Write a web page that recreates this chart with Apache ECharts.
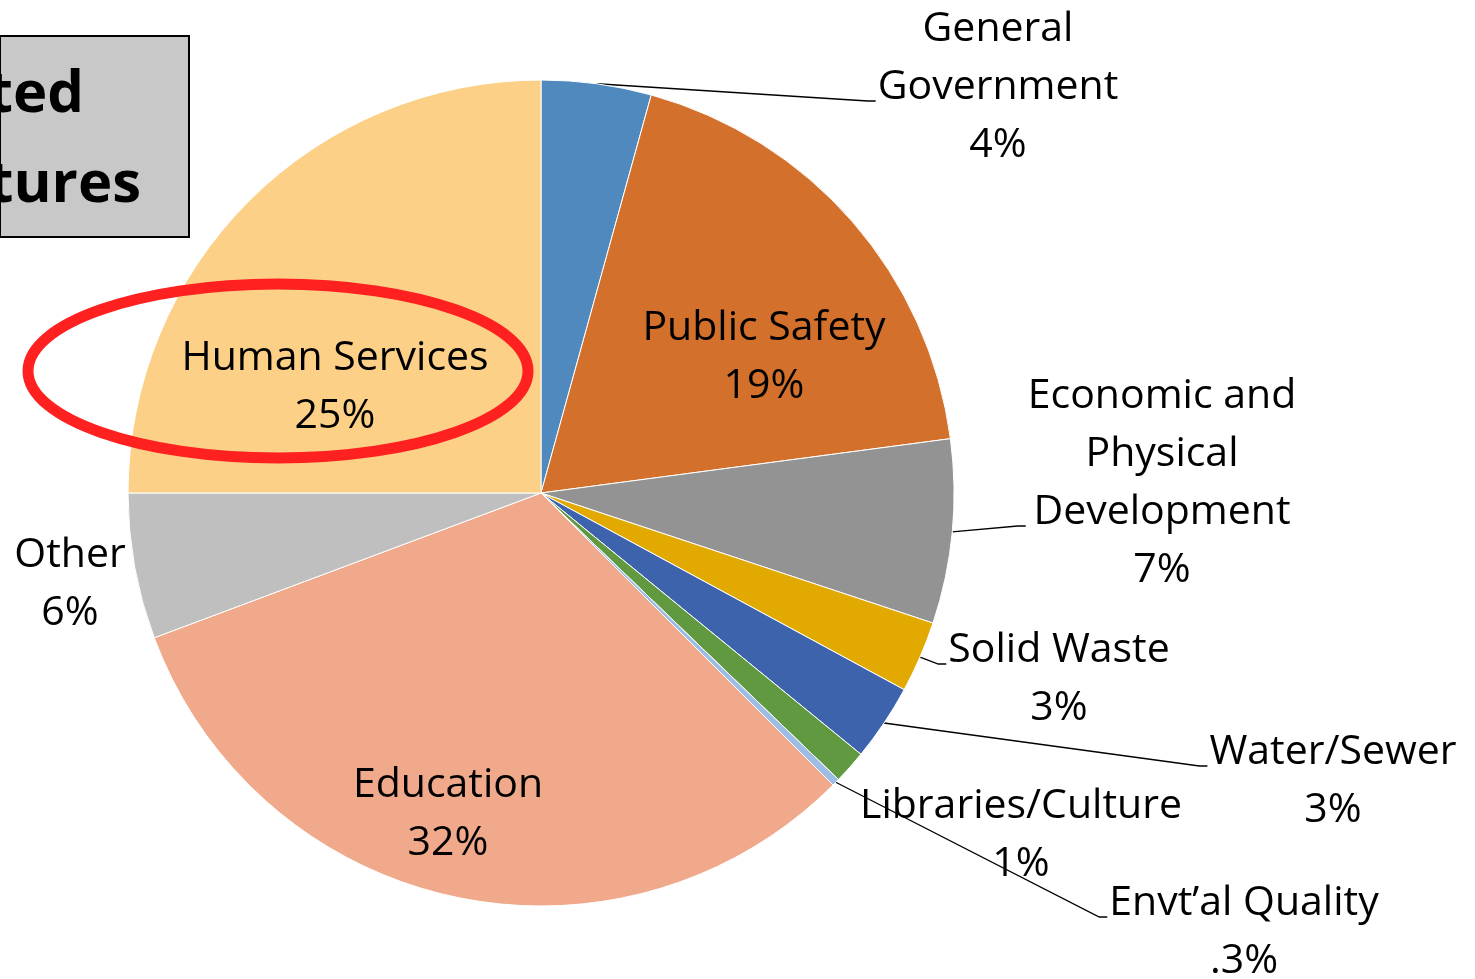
<!DOCTYPE html>
<html>
<head>
<meta charset="utf-8">
<script src="https://cdn.jsdelivr.net/npm/echarts@6/dist/echarts.min.js"></script>
<style>
  html, body { margin: 0; padding: 0; background: #fff; }
  #chart { width: 1475px; height: 979px; }
</style>
</head>
<body>
<div id="chart"></div>
<script>
// --- data, clockwise from 12 o'clock ---
var categories = ['General\nGovernment', 'Public Safety', 'Economic and\nPhysical\nDevelopment', 'Solid Waste',
  'Water/Sewer', 'Libraries/Culture', 'Envt\u2019al Quality', 'Education', 'Other', 'Human Services'];
var shares = [4.3, 18.6, 7.2, 2.8, 3.0, 1.3, 0.3, 31.8, 5.7, 25.0];
var pctLabels = ['4%', '19%', '7%', '3%', '3%', '1%', '.3%', '32%', '6%', '25%'];
var colors = ['#4F89BE', '#D2702C', '#939393', '#E2A900', '#3E63AD', '#60993F', '#9DBDE4', '#F0A98B', '#BFBFBF', '#FDD087'];

var FONT = '"Open Sans", "Noto Sans", sans-serif';
var FS = 41, LINE_H = 58;

// label centre spots; lead = text line the leader line points at (-1: no line)
var labelSpots = [
  { x: 998, y: 87, lead: 1 },
  { x: 764, y: 357, lead: -1, inside: true },
  { x: 1162, y: 483, lead: 2 },
  { x: 1059, y: 679, lead: 0 },
  { x: 1333, y: 781, lead: 0 },
  { x: 1021, y: 835, lead: -1 },
  { x: 1244, y: 932, lead: 0 },
  { x: 448, y: 814, lead: -1, inside: true },
  { x: 70, y: 584, lead: -1, inside: true },
  { x: 335, y: 387, lead: -1, inside: true }
];

var ctx = document.createElement('canvas').getContext('2d');
ctx.font = FS + 'px ' + FONT;
function labelText(i) { return categories[i] + '\n' + pctLabels[i]; }
function textWidth(s) { return ctx.measureText(s).width; }

var pieData = shares.map(function (v, i) {
  var spot = labelSpots[i];
  return {
    name: categories[i],
    value: v,
    itemStyle: { color: colors[i] },
    label: { position: spot.inside ? 'inside' : 'outside' },
    labelLine: { show: spot.lead >= 0 }
  };
});

var chart = echarts.init(document.getElementById('chart'), null, { renderer: 'canvas' });
chart.setOption({
  animation: false,
  graphic: [
    {
      type: 'rect',
      shape: { x: 0, y: 36, width: 189, height: 201 },
      style: { fill: '#C8C8C8', stroke: '#000', lineWidth: 2 },
      z: 1
    },
    {
      type: 'text', x: 84, y: 95,
      style: { text: 'ted', font: 'bold 58px ' + FONT, fill: '#000', align: 'right', verticalAlign: 'middle' },
      z: 2
    },
    {
      type: 'text', x: 141, y: 185,
      style: { text: 'tures', font: 'bold 58px ' + FONT, fill: '#000', align: 'right', verticalAlign: 'middle' },
      z: 2
    },
    {
      type: 'ellipse',
      shape: { cx: 278, cy: 371, rx: 250, ry: 87 },
      style: { fill: null, stroke: '#FF2020', lineWidth: 11 },
      z: 100
    }
  ],
  series: [{
    type: 'pie',
    center: [541, 493],
    radius: 413,
    startAngle: 90,
    clockwise: true,
    avoidLabelOverlap: false,
    itemStyle: { borderColor: '#fff', borderWidth: 1 },
    label: {
      show: true,
      color: '#000',
      fontFamily: FONT,
      fontSize: FS,
      lineHeight: LINE_H,
      align: 'center',
      overflow: 'none',
      formatter: function (p) { return labelText(p.dataIndex); }
    },
    labelLine: { show: true, lineStyle: { color: '#000', width: 1.3 } },
    labelLayout: function (p) {
      var s = labelSpots[p.dataIndex];
      var out = { x: s.x, y: s.y, align: 'center', verticalAlign: 'middle' };
      if (s.lead >= 0 && p.labelLinePoints) {
        var lines = labelText(p.dataIndex).split('\n');
        var w = Math.max.apply(null, lines.map(textWidth));
        var left = s.x - w / 2;
        var by = s.y - (lines.length - 1) / 2 * LINE_H + s.lead * LINE_H + 14;
        out.labelLinePoints = [p.labelLinePoints[0], [left - 10, by], [left - 2, by]];
      }
      return out;
    },
    data: pieData
  }]
});
window.addEventListener('resize', function () { chart.resize(); });
</script>
</body>
</html>
